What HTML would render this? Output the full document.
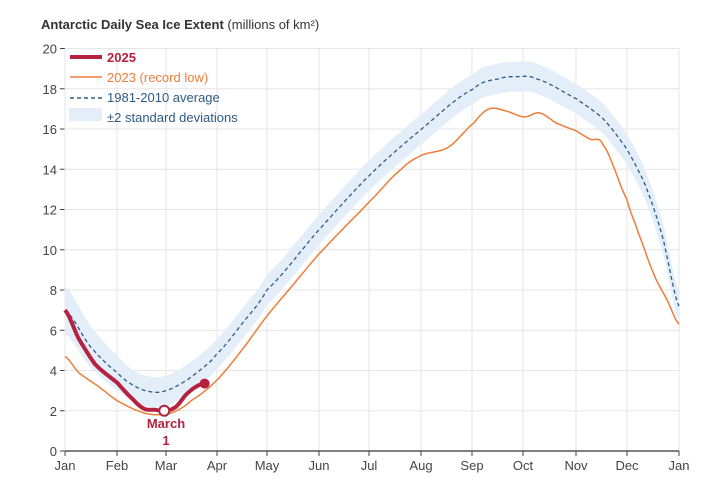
<!DOCTYPE html>
<html><head><meta charset="utf-8"><style>
body{margin:0;background:#fff}
svg{display:block;font-family:"Liberation Sans",sans-serif}
</style></head><body>
<svg id="c" width="720" height="499" viewBox="0 0 720 499">
<rect width="720" height="499" fill="#fff"/>
<text x="41" y="29" font-size="13" fill="#333"><tspan font-weight="bold">Antarctic Daily Sea Ice Extent</tspan> (millions of km²)</text>
<g id="grid"></g>
<g id="data"></g>
<g font-size="13" font-weight="bold">
<rect x="69" y="108" width="33" height="13" fill="#e3eef9"/>
<line x1="70" y1="57" x2="102" y2="57" stroke="#b5223f" stroke-width="4"/>
<text x="107" y="62" fill="#b5223f">2025</text>
<line x1="70" y1="77" x2="102" y2="77" stroke="#ee7d3a" stroke-width="1.5"/>
<text x="107" y="82" fill="#ee7d3a" font-weight="normal">2023 (record low)</text>
<line x1="70" y1="98" x2="102" y2="98" stroke="#2e5b85" stroke-width="1.5" stroke-dasharray="4,3"/>
<text x="107" y="102" fill="#2e5b85" font-weight="normal">1981-2010 average</text>
<text x="107" y="122" fill="#2e5b85" font-weight="normal">±2 standard deviations</text>
<text x="166" y="428" fill="#b5223f" text-anchor="middle">March</text>
<text x="166" y="445" fill="#b5223f" text-anchor="middle">1</text>
</g>
</svg>
<script>
const X=d=>65+d*614/365, Y=v=>451-v*20.125;
const g=document.getElementById('grid'), D=document.getElementById('data');
let s='';
const mx=[65,117,166,217,267,319,369,421,472,523,576,627,679],mn=['Jan','Feb','Mar','Apr','May','Jun','Jul','Aug','Sep','Oct','Nov','Dec','Jan'];
for(let v=0;v<=20;v+=2){const y=Y(v);s+=`<line x1="65" x2="679" y1="${y}" y2="${y}" stroke="#e6e6e6"/><line x1="60" x2="65" y1="${y}" y2="${y}" stroke="#444"/><text x="57" y="${y+5}" font-size="13" fill="#444" text-anchor="end">${v}</text>`;}
mx.forEach((x,i)=>{s+=`<line x1="${x}" x2="${x}" y1="${Y(20)}" y2="451" stroke="#e6e6e6"/><line x1="${x}" x2="${x}" y1="451" y2="456" stroke="#444"/><text x="${x}" y="470" font-size="13" fill="#444" text-anchor="middle">${mn[i]}</text>`;});
s+=`<line x1="65" x2="679" y1="451" y2="451" stroke="#333" stroke-width="1.2"/>`;
g.innerHTML=s;
function interp(pts,d){for(let i=0;i<pts.length-1;i++){if(d>=pts[i][0]&&d<=pts[i+1][0]){const t=(d-pts[i][0])/(pts[i+1][0]-pts[i][0]);const a=pts[Math.max(i-1,0)][1],b=pts[i][1],c=pts[i+1][1],e=pts[Math.min(i+2,pts.length-1)][1];const t2=t*t,t3=t2*t;return 0.5*((2*b)+(-a+c)*t+(2*a-5*b+4*c-e)*t2+(-a+3*b-3*c+e)*t3);}}return pts[pts.length-1][1];}
const avg=[[0,7.0],[15,5.2],[31,3.9],[42,3.2],[52,2.93],[60,3.0],[70,3.4],[80,4.0],[90,4.8],[105,6.3],[120,8.0],[150,10.9],[181,13.7],[212,16.0],[243,18.0],[258,18.5],[268,18.6],[280,18.5],[304,17.5],[320,16.5],[334,15.0],[345,13.2],[355,10.7],[365,7.2]];
const r23=[[0,4.7],[8,3.9],[20,3.2],[31,2.5],[45,1.95],[55,1.8],[65,1.95],[75,2.5],[90,3.5],[105,5.0],[120,6.7],[135,8.2],[150,9.7],[166,11.1],[181,12.4],[200,14.0],[212,14.7],[228,15.1],[243,16.3],[252,17.0],[262,16.9],[273,16.6],[282,16.8],[292,16.3],[304,15.9],[312,15.5],[320,15.2],[334,12.5],[341,10.8],[350,8.8],[358,7.5],[365,6.3]];
const r25=[[0,7.0],[8,5.6],[18,4.3],[31,3.4],[40,2.6],[47,2.1],[53,2.05],[60,2.0],[66,2.2],[72,2.8],[78,3.2],[83,3.35]];
function path(pts,off,from,to){let a=[];for(let d=from;d<=to;d+=1)a.push(X(d).toFixed(1)+','+Y(interp(pts,d)+off(d)).toFixed(1));return a;}
const w=d=>d<40?1.2-0.45*d/40:0.75;
const up=path(avg,d=>w(d),0,365),lo=path(avg,d=>-w(d),0,365).reverse();
let h=`<polygon points="${up.join(' ')} ${lo.join(' ')}" fill="#e3eef9"/>`;
h+=`<polyline points="${path(r23,()=>0,0,365).join(' ')}" fill="none" stroke="#ee7d3a" stroke-width="1.5"/>`;
h+=`<polyline points="${path(avg,()=>0,0,365).join(' ')}" fill="none" stroke="#2e5b85" stroke-width="1.3" stroke-dasharray="4,3"/>`;
h+=`<polyline points="${path(r25,()=>0,0,83).join(' ')}" fill="none" stroke="#b5223f" stroke-width="4" stroke-linejoin="round"/>`;
h+=`<circle cx="${X(83)}" cy="${Y(3.35)}" r="5" fill="#b5223f"/><circle cx="${X(59)}" cy="${Y(2.0)}" r="5" fill="#fff" stroke="#b5223f" stroke-width="2"/>`;
D.innerHTML=h;
</script>
</body></html>
